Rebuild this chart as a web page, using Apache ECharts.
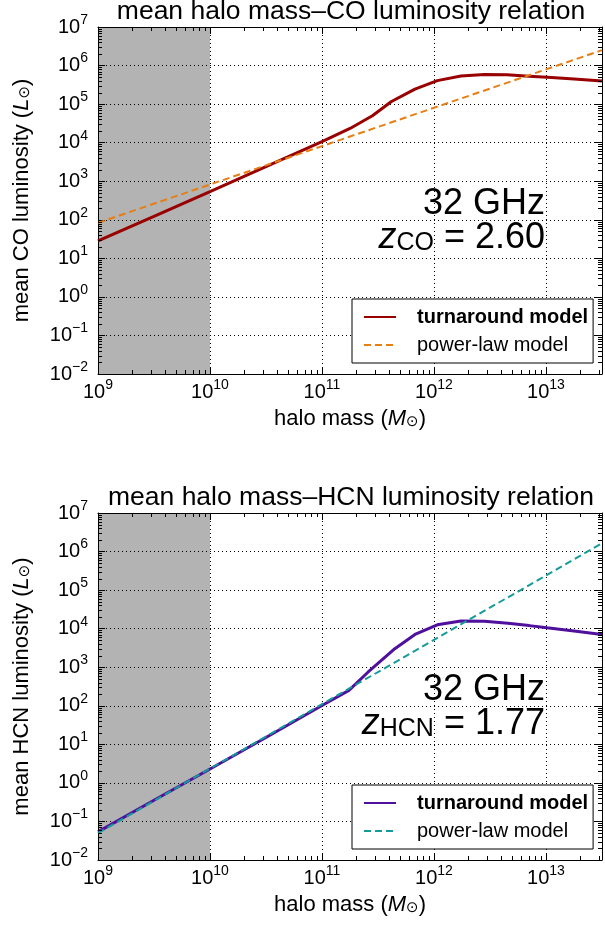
<!DOCTYPE html>
<html>
<head>
<meta charset="utf-8">
<script src="https://cdn.jsdelivr.net/npm/echarts@6/dist/echarts.min.js"></script>
<style>
  html, body { margin: 0; padding: 0; background: #fff; }
  #chart { width: 605px; height: 926px; }
</style>
</head>
<body>
<div id="chart"></div>
<script>
// halo mass (Msun) and mean luminosity (Lsun)
const massCOturn = [1e9, 3.16e9, 1e10, 3.16e10, 1e11, 1.78e11, 2.82e11, 4.17e11, 6.76e11, 1.07e12, 1.74e12, 2.82e12, 4.47e12, 7.08e12, 1.12e13, 1.78e13, 3.16e13]
const lumCOturn = [28.2, 123, 537, 2400, 10700, 23400, 50100, 117000, 245000, 407000, 537000, 589000, 575000, 525000, 490000, 447000, 398000]
const massPL = [1e9, 1e10, 1e11, 1e12, 1e13, 3.16e13]
const lumCOpl = [83.2, 822, 8130, 80400, 794000, 2510000]

const massHCNturn = [1e9, 3.16e9, 1e10, 3.16e10, 1e11, 1.74e11, 2.57e11, 4.47e11, 6.76e11, 1.07e12, 1.74e12, 2.82e12, 4.57e12, 7.08e12, 1.02e13, 1.78e13, 3.16e13]
const lumHCNturn = [0.0537, 0.355, 2.29, 15.1, 102, 251, 741, 3020, 7080, 12600, 15800, 15500, 13800, 12000, 10500, 8710, 7080]
const lumHCNpl = [0.0501, 2.34, 110, 5130, 240000, 1640000]

const shadedRange = [1e9, 1e10]
const xRange = [1e9, 3.1623e13]
const yRange = [0.01, 1e7]
const xDecades = [1e9, 1e10, 1e11, 1e12, 1e13]
const yDecades = [0.01, 0.1, 1, 10, 100, 1e3, 1e4, 1e5, 1e6]
const minorMult = [2, 3, 4, 5, 6, 7, 8, 9]

const FF = 'Liberation Sans, Arial, sans-serif'
const zip = (a, b) => a.map((v, i) => [v, b[i]])

function powLabel (v) {
  const e = Math.log10(v)
  const r = Math.round(e)
  if (Math.abs(e - r) > 1e-6) return ''
  return '{b|10}{s|' + (r < 0 ? '\u2212' + (-r) : r) + '}'
}
const tickRich = {
  b: { fontSize: 20, fontFamily: FF, color: '#000', lineHeight: 28 },
  s: { fontSize: 14, fontFamily: FF, color: '#000', verticalAlign: 'top', lineHeight: 12 }
}
const nameRich = {
  i: { fontSize: 22, fontFamily: FF, fontStyle: 'italic', color: '#000' },
  s: { fontSize: 15, fontFamily: 'DejaVu Sans', color: '#000', verticalAlign: 'bottom', lineHeight: 11 }
}

// minor log ticks (2..9 x 10^k) drawn on all four spines
const minorData = []
xDecades.forEach(d => minorMult.forEach(m => { if (d * m <= xRange[1]) minorData.push([d * m, 1, 0]) }))
yDecades.forEach(d => minorMult.forEach(m => minorData.push([1e9, d * m, 1])))

function minorTicks (params, api) {
  const cs = params.coordSys
  const p = api.coord([api.value(0), api.value(1)])
  const L = 4
  const st = { stroke: '#000', lineWidth: 1 }
  if (api.value(2) === 0) {
    const x = Math.round(p[0]) + 0.5
    return { type: 'group', children: [
      { type: 'line', shape: { x1: x, y1: cs.y + cs.height, x2: x, y2: cs.y + cs.height - L }, style: st },
      { type: 'line', shape: { x1: x, y1: cs.y, x2: x, y2: cs.y + L }, style: st }
    ] }
  }
  const y = Math.round(p[1]) + 0.5
  return { type: 'group', children: [
    { type: 'line', shape: { x1: cs.x, y1: y, x2: cs.x + L, y2: y }, style: st },
    { type: 'line', shape: { x1: cs.x + cs.width, y1: y, x2: cs.x + cs.width - L, y2: y }, style: st }
  ] }
}

function xAxes (grid, title) {
  return [{
    type: 'log', gridIndex: grid, min: xRange[0], max: xRange[1], splitNumber: 5, z: 3,
    name: title, nameLocation: 'middle', nameGap: 34,
    nameTextStyle: { fontSize: 22, fontFamily: FF, color: '#000', rich: nameRich },
    axisLine: { show: true, lineStyle: { color: '#000', width: 1 } },
    axisTick: { inside: true, length: 7, lineStyle: { color: '#000' } },
    axisLabel: { formatter: powLabel, rich: tickRich, margin: 4 },
    splitLine: { show: true, lineStyle: { color: '#000', width: 1, type: [1, 3] } }
  }, {
    type: 'log', gridIndex: grid, position: 'top', min: xRange[0], max: xRange[1], splitNumber: 5, z: 3,
    axisLine: { show: true, lineStyle: { color: '#000', width: 1 } },
    axisTick: { inside: true, length: 7, lineStyle: { color: '#000' } },
    axisLabel: { show: false },
    splitLine: { show: false }
  }]
}
function yAxes (grid, title) {
  return [{
    type: 'log', gridIndex: grid, min: yRange[0], max: yRange[1], splitNumber: 9, z: 3,
    name: title, nameLocation: 'middle', nameGap: 65,
    nameTextStyle: { fontSize: 22, fontFamily: FF, color: '#000', rich: nameRich },
    axisLine: { show: true, lineStyle: { color: '#000', width: 1 } },
    axisTick: { inside: true, length: 7, lineStyle: { color: '#000' } },
    axisLabel: { formatter: powLabel, rich: tickRich, margin: 10 },
    splitLine: { show: true, lineStyle: { color: '#000', width: 1, type: [1, 3] } }
  }, {
    type: 'log', gridIndex: grid, position: 'right', min: yRange[0], max: yRange[1], splitNumber: 9, z: 3,
    axisLine: { show: true, lineStyle: { color: '#000', width: 1 } },
    axisTick: { inside: true, length: 7, lineStyle: { color: '#000' } },
    axisLabel: { show: false },
    splitLine: { show: false }
  }]
}

function panelSeries (grid, tag, turnX, turnY, plY, cTurn, cPl) {
  const xi = grid * 2
  return [{
    type: 'line', name: 'shade' + tag, xAxisIndex: xi, yAxisIndex: xi, data: [], z: 1, silent: true,
    markArea: { silent: true, itemStyle: { color: '#b3b3b3' }, data: [[{ xAxis: shadedRange[0] }, { xAxis: shadedRange[1] }]] }
  }, {
    type: 'line', name: 'turnaround model' + tag, xAxisIndex: xi, yAxisIndex: xi, z: 4,
    data: zip(turnX, turnY), symbol: 'none', color: cTurn,
    lineStyle: { color: cTurn, width: 3 }
  }, {
    type: 'line', name: 'power-law model' + tag, xAxisIndex: xi, yAxisIndex: xi, z: 4,
    data: zip(massPL, plY), symbol: 'none', color: cPl,
    lineStyle: { color: cPl, width: 2, type: [7, 4] }
  }, {
    type: 'custom', xAxisIndex: xi, yAxisIndex: xi, z: 5, silent: true, clip: false,
    renderItem: minorTicks, data: minorData, encode: { x: 0, y: 1 }
  }]
}

function legendFor (tag, top) {
  return {
    orient: 'vertical', left: 352, top: top, selectedMode: false,
    backgroundColor: '#fff', borderColor: '#000', borderWidth: 1,
    padding: [8, 5, 8, 11], itemGap: 8, itemWidth: 32, itemHeight: 14, z: 10,
    itemStyle: { opacity: 0 },
    formatter: n => n.replace(tag, ''),
    textStyle: { fontSize: 20, fontFamily: FF, color: '#000', padding: [0, 0, 0, 16] },
    data: [
      { name: 'turnaround model' + tag, textStyle: { fontWeight: 'bold' } },
      { name: 'power-law model' + tag }
    ]
  }
}

function annot (y, label, value) {
  return [{
    type: 'text', x: 545, y: y, z: 20,
    style: { text: '32 GHz', font: '36px ' + FF, fill: '#000', align: 'right', verticalAlign: 'middle' }
  }, {
    type: 'text', x: 545, y: y + 34, z: 20,
    style: {
      text: '{i|z}{s|' + label + '}{n| = ' + value + '}', align: 'right', verticalAlign: 'middle',
      rich: {
        i: { fontSize: 36, fontFamily: FF, fontStyle: 'italic', fill: '#000' },
        s: { fontSize: 25, fontFamily: FF, fill: '#000', verticalAlign: 'bottom', lineHeight: 13 },
        n: { fontSize: 36, fontFamily: FF, fill: '#000' }
      }
    }
  }]
}

const myChart = echarts.init(document.getElementById('chart'), null, { renderer: 'canvas' })
const option = {
  animation: false,
  backgroundColor: '#fff',
  grid: [
    { left: 98, top: 27, width: 507, height: 347, show: false },
    { left: 98, top: 513, width: 507, height: 347, show: false }
  ],
  xAxis: [...xAxes(0, 'halo mass ({i|M}{s|\u2299})'), ...xAxes(1, 'halo mass ({i|M}{s|\u2299})')],
  yAxis: [...yAxes(0, 'mean CO luminosity ({i|L}{s|\u2299})'), ...yAxes(1, 'mean HCN luminosity ({i|L}{s|\u2299})')],
  legend: [legendFor('', 299), legendFor(' (HCN)', 785)],
  series: [
    ...panelSeries(0, '', massCOturn, lumCOturn, lumCOpl, '#990000', '#e67e14'),
    ...panelSeries(1, ' (HCN)', massHCNturn, lumHCNturn, lumHCNpl, '#50109e', '#169b9b')
  ],
  graphic: [
    { type: 'text', x: 351, y: 12, z: 20, style: { text: 'mean halo mass\u2013CO luminosity relation', font: '26.5px ' + FF, fill: '#000', align: 'center', verticalAlign: 'middle' } },
    { type: 'text', x: 351, y: 498, z: 20, style: { text: 'mean halo mass\u2013HCN luminosity relation', font: '26.5px ' + FF, fill: '#000', align: 'center', verticalAlign: 'middle' } },
    ...annot(204, 'CO', '2.60'),
    ...annot(690, 'HCN', '1.77')
  ]
}
myChart.setOption(option)
</script>
</body>
</html>
